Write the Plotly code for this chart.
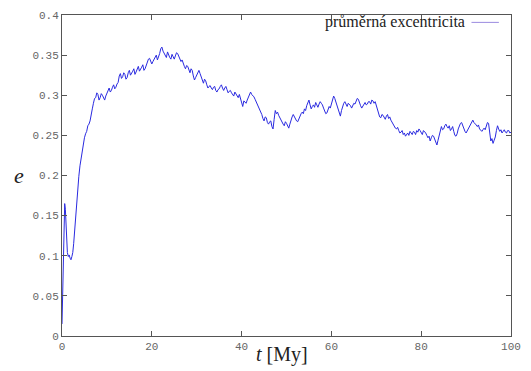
import plotly.graph_objects as go

t_early = [0.0, 0.15, 0.3, 0.45, 0.6, 0.75, 0.9, 1.05, 1.2, 1.4, 1.6, 1.8, 2.0, 2.2, 2.4, 2.6, 2.8]
e_early = [0.015, 0.06, 0.11, 0.150, 0.165, 0.158, 0.140, 0.118, 0.104, 0.099, 0.101, 0.097, 0.095, 0.099, 0.104, 0.115, 0.130]

e_main = [
    0.150, 0.170, 0.185, 0.199, 0.212, 0.222, 0.230, 0.241, 0.247, 0.252, 0.255, 0.262, 0.264, 0.268, 0.279, 0.283, 0.290, 0.296, 0.297, 0.303,
    0.301, 0.294, 0.297, 0.302, 0.300, 0.296, 0.294, 0.299, 0.303, 0.306, 0.309, 0.304, 0.306, 0.310, 0.313, 0.308, 0.310, 0.314, 0.316, 0.324,
    0.327, 0.321, 0.323, 0.328, 0.326, 0.320, 0.322, 0.328, 0.331, 0.325, 0.327, 0.330, 0.333, 0.326, 0.329, 0.334, 0.336, 0.330, 0.332, 0.335,
    0.338, 0.331, 0.333, 0.337, 0.340, 0.345, 0.346, 0.341, 0.339, 0.342, 0.345, 0.348, 0.350, 0.344, 0.347, 0.352, 0.358, 0.360, 0.355, 0.352,
    0.350, 0.347, 0.354, 0.350, 0.347, 0.345, 0.351, 0.348, 0.345, 0.349, 0.353, 0.352, 0.349, 0.346, 0.342, 0.344, 0.339, 0.336, 0.333, 0.337,
    0.336, 0.331, 0.328, 0.333, 0.331, 0.324, 0.319, 0.322, 0.325, 0.329, 0.331, 0.327, 0.322, 0.318, 0.315, 0.320, 0.318, 0.313, 0.309, 0.311,
    0.312, 0.309, 0.307, 0.310, 0.311, 0.306, 0.304, 0.307, 0.308, 0.311, 0.313, 0.309, 0.306, 0.309, 0.311, 0.307, 0.303, 0.305, 0.306, 0.303,
    0.301, 0.299, 0.304, 0.302, 0.299, 0.297, 0.301, 0.295, 0.288, 0.286, 0.293, 0.292, 0.290, 0.294, 0.298, 0.302, 0.304, 0.301, 0.300, 0.298,
    0.295, 0.292, 0.288, 0.284, 0.281, 0.279, 0.276, 0.271, 0.268, 0.273, 0.272, 0.266, 0.264, 0.267, 0.268, 0.261, 0.258, 0.270, 0.281, 0.277,
    0.279, 0.275, 0.272, 0.268, 0.266, 0.264, 0.262, 0.267, 0.265, 0.261, 0.259, 0.264, 0.270, 0.273, 0.276, 0.273, 0.271, 0.268, 0.267, 0.271,
    0.274, 0.277, 0.279, 0.277, 0.283, 0.281, 0.287, 0.291, 0.294, 0.288, 0.283, 0.286, 0.288, 0.285, 0.291, 0.288, 0.285, 0.289, 0.292, 0.290,
    0.288, 0.284, 0.281, 0.277, 0.278, 0.283, 0.286, 0.284, 0.290, 0.295, 0.299, 0.296, 0.291, 0.288, 0.284, 0.279, 0.274, 0.281, 0.287, 0.290,
    0.292, 0.288, 0.286, 0.290, 0.289, 0.287, 0.284, 0.288, 0.290, 0.289, 0.293, 0.296, 0.295, 0.290, 0.287, 0.284, 0.286, 0.289, 0.291, 0.288,
    0.289, 0.292, 0.292, 0.289, 0.294, 0.293, 0.290, 0.292, 0.287, 0.280, 0.276, 0.273, 0.272, 0.276, 0.275, 0.272, 0.270, 0.274, 0.276, 0.271,
    0.273, 0.269, 0.266, 0.264, 0.262, 0.259, 0.258, 0.260, 0.256, 0.253, 0.254, 0.256, 0.251, 0.253, 0.249, 0.252, 0.253, 0.250, 0.255, 0.253,
    0.251, 0.255, 0.254, 0.251, 0.256, 0.254, 0.258, 0.256, 0.254, 0.251, 0.256, 0.255, 0.253, 0.250, 0.247, 0.249, 0.243, 0.247, 0.250, 0.249,
    0.246, 0.242, 0.238, 0.244, 0.250, 0.256, 0.261, 0.257, 0.258, 0.262, 0.264, 0.261, 0.259, 0.262, 0.256, 0.258, 0.261, 0.255, 0.250, 0.249,
    0.252, 0.258, 0.262, 0.265, 0.266, 0.262, 0.258, 0.255, 0.253, 0.256, 0.259, 0.262, 0.264, 0.267, 0.269, 0.266, 0.265, 0.263, 0.261, 0.263,
    0.258, 0.256, 0.255, 0.257, 0.259, 0.257, 0.262, 0.266, 0.265, 0.255, 0.243, 0.246, 0.240, 0.244, 0.248, 0.256, 0.262, 0.258, 0.255, 0.257,
    0.253, 0.255, 0.257, 0.254, 0.253, 0.256, 0.256, 0.253, 0.254,
]
t_main = [3.0 + 0.25 * i for i in range(len(e_main))]

t_vals = t_early + t_main
e_vals = e_early + e_main

x_ticks = [0, 20, 40, 60, 80, 100]
y_ticks = [0, 0.05, 0.1, 0.15, 0.2, 0.25, 0.3, 0.35, 0.4]
y_tick_text = ["0", "0.05", "0.1", "0.15", "0.2", "0.25", "0.3", "0.35", "0.4"]

legend_label = "průměrná excentricita"
line_color = "#2a2ae0"

fig = go.Figure()
fig.add_trace(go.Scatter(x=t_vals, y=e_vals, mode="lines",
                         line=dict(color=line_color, width=1),
                         name=legend_label, showlegend=False))

axis_common = dict(showline=True, linecolor="#555", linewidth=1, mirror="ticks",
                   ticks="inside", ticklen=5, tickcolor="#555", showgrid=False, zeroline=False,
                   tickfont=dict(family="Liberation Mono", size=11, color="#666"))

fig.update_layout(
    width=531, height=371,
    margin=dict(l=62, r=14, t=10, b=35),
    plot_bgcolor="white", paper_bgcolor="white",
    xaxis=dict(range=[0, 100], tickvals=x_ticks, ticktext=[str(v) for v in x_ticks], **axis_common),
    yaxis=dict(range=[0, 0.4], tickvals=y_ticks, ticktext=y_tick_text, **axis_common),
    annotations=[
        dict(text="<i>t</i> [My]", xref="paper", yref="paper", x=0.49, y=-0.058,
             xanchor="center", yanchor="middle", showarrow=False,
             font=dict(family="Liberation Serif", size=20, color="#222")),
        dict(text="<i>e</i>", xref="paper", yref="paper", x=-0.095, y=0.5,
             xanchor="center", yanchor="middle", showarrow=False,
             font=dict(family="Liberation Serif", size=22, color="#222")),
        dict(text=legend_label, xref="paper", yref="paper", x=0.902, y=0.979,
             xanchor="right", yanchor="middle", showarrow=False,
             font=dict(family="Liberation Serif", size=16, color="#222")),
    ],
    shapes=[
        dict(type="line", xref="paper", yref="paper", x0=0.912, x1=0.973, y0=0.977, y1=0.977,
             line=dict(color="#9a8ae0", width=1)),
    ],
)

fig.write_html("out.html")
